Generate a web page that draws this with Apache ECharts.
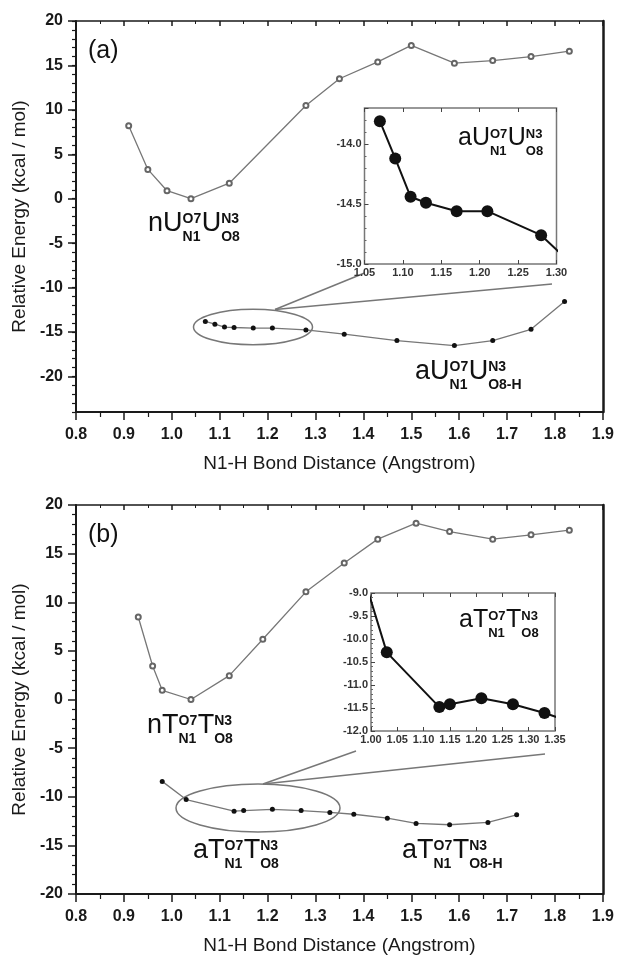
<!DOCTYPE html>
<html><head><meta charset="utf-8">
<script src="https://cdn.jsdelivr.net/npm/echarts@6/dist/echarts.min.js"></script>
<style>html,body{margin:0;padding:0;background:#fff}#c{width:617px;height:956px}</style>
</head><body><div id="c"></div>
<script>
// ---------- data ----------
// panel (a) uracil
const aOpenX = [0.91, 0.95, 0.99, 1.04, 1.12, 1.28, 1.35, 1.43, 1.50, 1.59, 1.67, 1.75, 1.83];
const aOpenY = [8.2, 3.3, 0.9, 0.0, 1.75, 10.5, 13.5, 15.4, 17.25, 15.25, 15.55, 16.0, 16.6];
const aFillX = [1.07, 1.09, 1.11, 1.13, 1.17, 1.21, 1.28, 1.36, 1.47, 1.59, 1.67, 1.75, 1.82];
const aFillY = [-13.81, -14.12, -14.44, -14.49, -14.56, -14.56, -14.76, -15.24, -15.96, -16.52, -15.96, -14.7, -11.57];
// panel (b) thymine
const bOpenX = [0.93, 0.96, 0.98, 1.04, 1.12, 1.19, 1.28, 1.36, 1.43, 1.51, 1.58, 1.67, 1.75, 1.83];
const bOpenY = [8.48, 3.44, 0.95, 0.0, 2.45, 6.2, 11.07, 14.04, 16.49, 18.13, 17.27, 16.49, 16.93, 17.41];
const bFillX = [0.98, 1.03, 1.13, 1.15, 1.21, 1.27, 1.33, 1.38, 1.45, 1.51, 1.58, 1.66, 1.72];
const bFillY = [-8.42, -10.29, -11.48, -11.42, -11.29, -11.42, -11.61, -11.8, -12.2, -12.74, -12.88, -12.64, -11.86];
// tick values
const yTicksA = [-20, -15, -10, -5, 0, 5, 10, 15, 20];
const xTitle = 'N1-H Bond Distance (Angstrom)';
const yTitle = 'Relative Energy (kcal / mol)';

const pairs = (xs, ys) => xs.map((x, i) => [x, ys[i]]);
const FF = '"Liberation Sans", Arial, sans-serif';
const INK = '#1a1a1a';

const chart = echarts.init(document.getElementById('c'), null, {renderer: 'canvas'});

function mainX(grid, top, name, gap) {
  if (top) return {
    gridIndex: grid, type: 'value', position: 'top', min: 0.8, max: 1.9, interval: 0.1,
    axisLine: {onZero: false, lineStyle: {color: INK, width: 1.5}},
    axisTick: {inside: true, length: 5, lineStyle: {color: INK, width: 1.5}},
    minorTick: {show: true, splitNumber: 2, length: 3, lineStyle: {color: INK, width: 1}},
    axisLabel: {show: false}, splitLine: {show: false}
  };
  return {
    gridIndex: grid, type: 'value', position: 'bottom', min: 0.8, max: 1.9, interval: 0.1,
    axisLine: {onZero: false, lineStyle: {color: INK, width: 2}},
    axisTick: {length: 8, lineStyle: {color: INK, width: 1.5}},
    minorTick: {show: true, splitNumber: 2, length: 5, lineStyle: {color: INK, width: 1.2}},
    axisLabel: {formatter: v => v.toFixed(1), fontSize: 16, fontWeight: 'bold', color: INK, fontFamily: FF, margin: 15},
    splitLine: {show: false},
    name: name, nameLocation: 'middle', nameGap: gap,
    nameTextStyle: {fontSize: 19, color: INK, fontFamily: FF}
  };
}
function insetX(grid, min, max, top) {
  return {
    gridIndex: grid, type: 'value', min: min, max: max, interval: 0.05, z: 4,
    position: top ? 'top' : 'bottom',
    axisLine: {show: false, onZero: false},
    axisTick: {inside: true, length: 4, lineStyle: {color: '#444', width: 1}},
    axisLabel: top ? {show: false} : {formatter: v => v.toFixed(2), fontSize: 11, fontWeight: 'bold', color: '#333', fontFamily: FF, margin: 3},
    splitLine: {show: false}
  };
}
function insetY(grid, min, max, showMax) {
  return {
    gridIndex: grid, type: 'value', position: 'left', min: min, max: max, interval: 0.5, z: 4,
    axisLine: {show: false, onZero: false},
    axisTick: {inside: true, length: 4, lineStyle: {color: '#444', width: 1}},
    minorTick: {show: true, splitNumber: 5, length: 2, lineStyle: {color: '#666', width: 1}},
    axisLabel: {formatter: v => v.toFixed(1), fontSize: 11, fontWeight: 'bold', color: '#333', fontFamily: FF, margin: 3, showMaxLabel: showMax},
    splitLine: {show: false}
  };
}
function rightY(grid) {
  return {gridIndex: grid, type: 'value', position: 'right', min: 0, max: 1,
    axisLine: {onZero: false, lineStyle: {color: INK, width: 2.5}},
    axisTick: {show: false}, axisLabel: {show: false}, splitLine: {show: false}};
}

const openStyle = {
  type: 'line', symbol: 'emptyCircle', symbolSize: 5,
  lineStyle: {color: '#777', width: 1.3},
  itemStyle: {color: '#666', borderWidth: 1}
};
const fillStyle = {
  type: 'line', symbol: 'circle', symbolSize: 5,
  lineStyle: {color: '#777', width: 1.3},
  itemStyle: {color: '#111'}
};
const insetStyle = {
  type: 'line', symbol: 'circle', symbolSize: 12, z: 5, clip: true,
  lineStyle: {color: '#111', width: 2},
  itemStyle: {color: '#111'}
};

// chemical labels
const mctx = document.createElement('canvas').getContext('2d');
function tw(t, fs, bold) { mctx.font = (bold ? 'bold ' : '') + fs + 'px ' + FF; return mctx.measureText(t).width; }
function chem(left, base, fs, pieces) {
  const out = []; let x = left; const fs2 = Math.round(fs * 0.53);
  pieces.forEach(p => {
    if (typeof p === 'string') {
      out.push({type: 'text', x: x, y: base - 0.35 * fs, z: 20,
        style: {text: p, fontSize: fs, fontFamily: FF, fill: '#111', verticalAlign: 'middle', align: 'left'}});
      x += tw(p, fs, false);
    } else {
      const supB = base - 0.34 * fs, subB = base + 0.34 * fs;
      out.push({type: 'text', x: x, y: supB - 0.35 * fs2, z: 20,
        style: {text: p[0], fontSize: fs2, fontWeight: 'bold', fontFamily: FF, fill: '#111', verticalAlign: 'middle', align: 'left'}});
      out.push({type: 'text', x: x, y: subB - 0.35 * fs2, z: 20,
        style: {text: p[1], fontSize: fs2, fontWeight: 'bold', fontFamily: FF, fill: '#111', verticalAlign: 'middle', align: 'left'}});
      x += Math.max(tw(p[0], fs2, true), tw(p[1], fs2, true)) + 0.5;
    }
  });
  return out;
}
const G = '#777';
const graphics = [].concat(
  [{type: 'text', x: 88, y: 51, z: 20, style: {text: '(a)', fontSize: 25, fontFamily: FF, fill: '#111', verticalAlign: 'middle'}},
   {type: 'text', x: 88, y: 535, z: 20, style: {text: '(b)', fontSize: 25, fontFamily: FF, fill: '#111', verticalAlign: 'middle'}},
   {type: 'ellipse', shape: {cx: 253, cy: 327, rx: 59.5, ry: 17.8}, style: {fill: 'none', stroke: G, lineWidth: 1.5}, z: 1},
   {type: 'line', shape: {x1: 275, y1: 309.5, x2: 364.5, y2: 273}, style: {stroke: G, lineWidth: 1.5}, z: 1},
   {type: 'line', shape: {x1: 275, y1: 309.5, x2: 552, y2: 284}, style: {stroke: G, lineWidth: 1.5}, z: 1},
   {type: 'ellipse', shape: {cx: 258, cy: 808, rx: 82, ry: 24}, style: {fill: 'none', stroke: G, lineWidth: 1.5}, z: 1},
   {type: 'line', shape: {x1: 263, y1: 784, x2: 356, y2: 751}, style: {stroke: G, lineWidth: 1.5}, z: 1},
   {type: 'line', shape: {x1: 263, y1: 784, x2: 545, y2: 754}, style: {stroke: G, lineWidth: 1.5}, z: 1}],
  chem(148, 233, 27, ['nU', ['O7', 'N1'], 'U', ['N3', 'O8']]),
  chem(458, 147, 25, ['aU', ['O7', 'N1'], 'U', ['N3', 'O8']]),
  chem(415, 381, 27, ['aU', ['O7', 'N1'], 'U', ['N3', 'O8-H']]),
  chem(147, 735, 27, ['nT', ['O7', 'N1'], 'T', ['N3', 'O8']]),
  chem(459, 629, 25, ['aT', ['O7', 'N1'], 'T', ['N3', 'O8']]),
  chem(193, 860, 27, ['aT', ['O7', 'N1'], 'T', ['N3', 'O8']]),
  chem(402, 860, 27, ['aT', ['O7', 'N1'], 'T', ['N3', 'O8-H']])
);

const leftMajor = (grid, min, max, extra) => Object.assign({
  gridIndex: grid, type: 'value', position: 'left', min: min, max: max,
  axisLine: {onZero: false, lineStyle: {color: INK, width: 2}},
  axisTick: {length: 8, lineStyle: {color: INK, width: 1.5}},
  axisLabel: {fontSize: 16, fontWeight: 'bold', color: INK, fontFamily: FF, margin: 13},
  splitLine: {show: false},
  name: yTitle, nameLocation: 'middle', nameGap: 46,
  nameTextStyle: {fontSize: 19, color: INK, fontFamily: FF}
}, extra);

const option = {
  animation: false,
  backgroundColor: '#fff',
  textStyle: {fontFamily: FF},
  grid: [
    {left: 76, top: 21, width: 527, height: 391},
    {left: 364.5, top: 108, width: 192, height: 156, show: true, backgroundColor: '#fff', borderColor: '#777', borderWidth: 1.5, z: 3},
    {left: 76, top: 505, width: 527, height: 392},
    {left: 371, top: 593, width: 184, height: 138, show: true, backgroundColor: '#fff', borderColor: '#777', borderWidth: 1.5, z: 3}
  ],
  xAxis: [
    mainX(0, false, xTitle, 42),
    mainX(0, true),
    insetX(1, 1.05, 1.30, false),
    insetX(1, 1.05, 1.30, true),
    mainX(2, false, xTitle, 42),
    mainX(2, true),
    insetX(3, 1.00, 1.35, false),
    insetX(3, 1.00, 1.35, true)
  ],
  yAxis: [
    {gridIndex: 0, type: 'value', position: 'left', min: -24, max: 20, interval: 1,
     axisLine: {onZero: false, lineStyle: {color: INK, width: 2}},
     axisTick: {length: 4, lineStyle: {color: INK, width: 1.2}},
     axisLabel: {show: false}, splitLine: {show: false}},
    leftMajor(0, -24, 20, {
      axisLine: {show: false, onZero: false},
      axisTick: {customValues: yTicksA, length: 8, lineStyle: {color: INK, width: 1.5}},
      axisLabel: {customValues: yTicksA, fontSize: 16, fontWeight: 'bold', color: INK, fontFamily: FF, margin: 13}
    }),
    rightY(0),
    insetY(1, -15, -13.7, false),
    leftMajor(2, -20, 20, {
      interval: 5,
      minorTick: {show: true, splitNumber: 5, length: 4, lineStyle: {color: INK, width: 1.2}}
    }),
    rightY(2),
    insetY(3, -12, -9, true)
  ],
  series: [
    Object.assign({}, openStyle, {xAxisIndex: 0, yAxisIndex: 0, data: pairs(aOpenX, aOpenY)}),
    Object.assign({}, fillStyle, {xAxisIndex: 0, yAxisIndex: 0, data: pairs(aFillX, aFillY)}),
    Object.assign({}, insetStyle, {xAxisIndex: 2, yAxisIndex: 3, data: pairs(aFillX, aFillY)}),
    Object.assign({}, openStyle, {xAxisIndex: 4, yAxisIndex: 4, data: pairs(bOpenX, bOpenY)}),
    Object.assign({}, fillStyle, {xAxisIndex: 4, yAxisIndex: 4, data: pairs(bFillX, bFillY)}),
    Object.assign({}, insetStyle, {xAxisIndex: 6, yAxisIndex: 6, data: pairs(bFillX, bFillY)})
  ],
  graphic: graphics
};
chart.setOption(option);
</script></body></html>
